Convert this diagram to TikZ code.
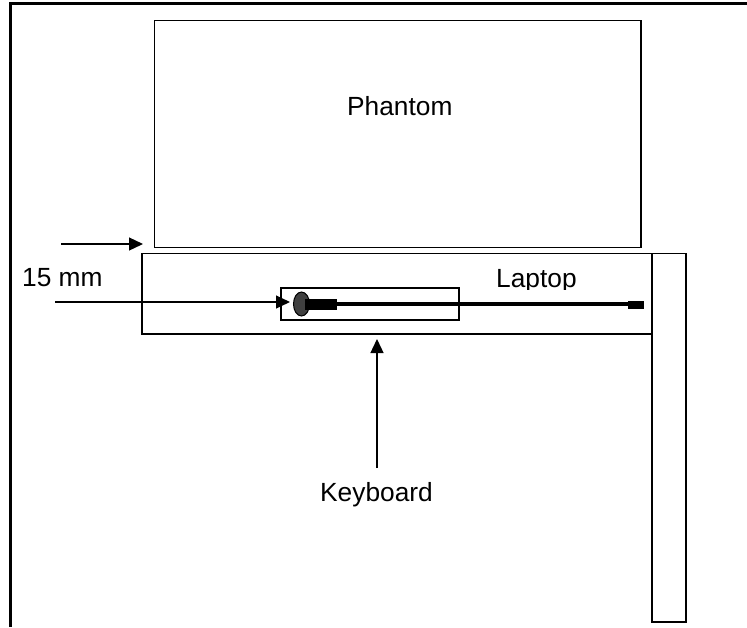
\documentclass[tikz,border=0pt]{standalone}
\usepackage{fontspec}
\setmainfont{Liberation Sans}
\usetikzlibrary{arrows.meta}
\tikzset{
	box/.style={draw, line width=1.3pt},
	pointer/.style={line width=1.3pt, arrows={-{Triangle[length=14pt,width=13pt]}}},
	label/.style={font=\fontsize{26.3}{30}\selectfont, inner sep=0pt, anchor=base west},
}

\begin{document}
\begin{tikzpicture}[x=1pt, y=-1pt]
	\useasboundingbox (0,0) rectangle (747,627);
	% outer frame
	\draw [line width=3pt] (10.7,627) -- (10.7,3.2) -- (747,3.2);
	% phantom, laptop, screen and keyboard
	\draw [box] (154.5,20.5) rectangle (641,247.5);
	\draw [box] (142,253.5) rectangle (652,334);
	\draw [box] (652,253.5) rectangle (686,622);
	\draw [box] (281,288) rectangle (459,320);
	% needle
	\draw [fill=black!75, line width=1pt] (301.5,304) ellipse (8 and 12);
	\draw [line width=4pt] (305,304) -- (636,304);
	\draw [line width=11pt] (305,304.8) -- (337,304.8);
	\draw [line width=8pt] (628,305) -- (644,305);
	% labels
	\node [label] (phantom) at (347,115) {Phantom};
	\node [label] (spacing) at (22,286) {15 mm};
	\node [label] (keyboard) at (320,501) {Keyboard};
	\begin{scope}
		\clip (480,260) rectangle (600,289);
		\node [label] (laptop) at (496,287) {Laptop};
	\end{scope}
	% arrows
	\coordinate (gapstart) at (61,244);
	\coordinate (gapend) at (143,244);
	\coordinate (needlestart) at (55,302);
	\coordinate (needleend) at (290,302);
	\coordinate (keystart) at (377,468);
	\coordinate (keyend) at (377,339);
	\draw [pointer] (gapstart) -- (gapend);
	\draw [pointer] (needlestart) -- (needleend);
	\draw [pointer] (keystart) -- (keyend);
\end{tikzpicture}
\end{document}
